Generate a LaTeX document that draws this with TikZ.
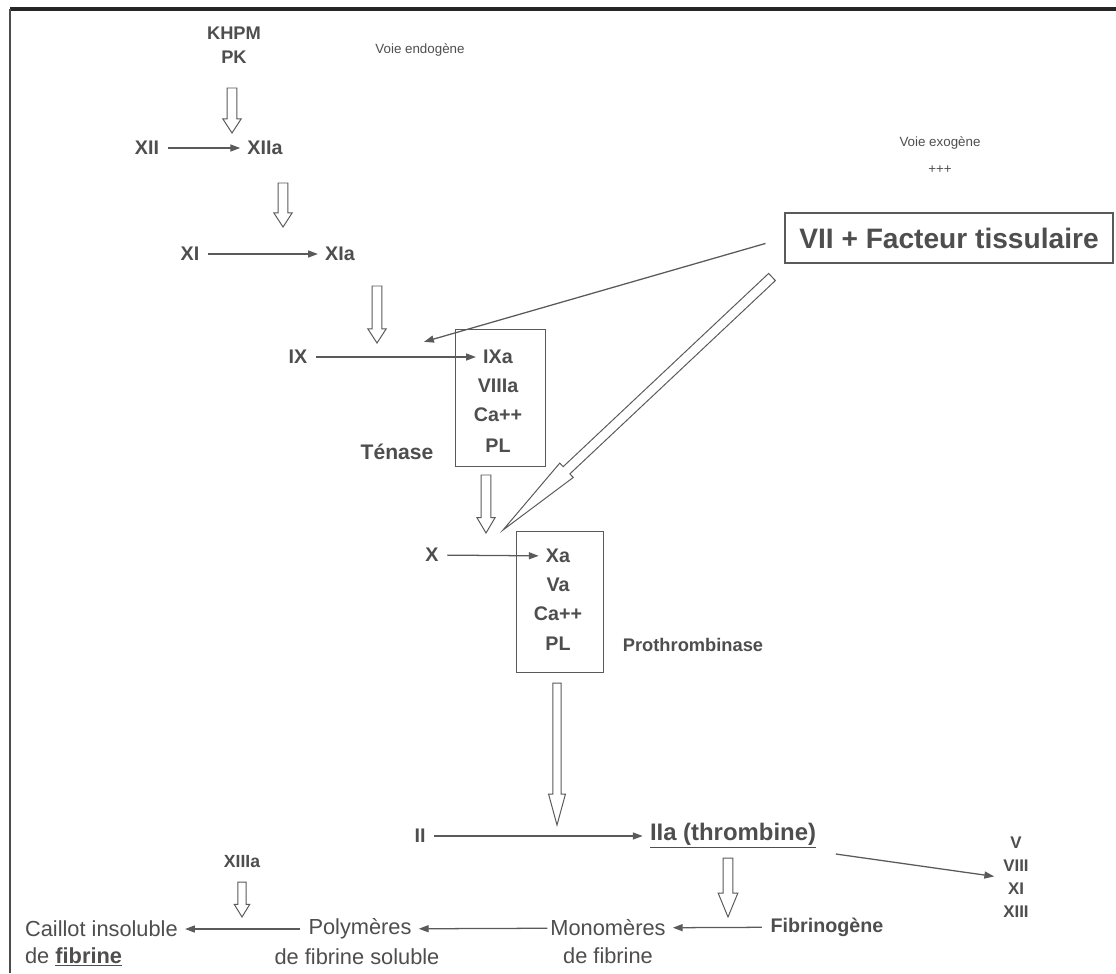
\documentclass[tikz,border=0pt]{standalone}
\usepackage{fontspec}
\setmainfont{Liberation Sans}
\usetikzlibrary{arrows.meta, calc}
\definecolor{ink}{HTML}{4E4E4E}
\definecolor{wire}{HTML}{5A5A5A}

% hollow arrow: start, tip, half shaft, half head, head length
\newcommand{\hollowarrow}[5]{%
  \coordinate (ha-h) at ($(#2)!#5!(#1)$);
  \draw[hollow] ($(#1)!#3!90:(#2)$) -- ($(ha-h)!#3!-90:(#1)$) -- ($(ha-h)!#4!-90:(#1)$)
    -- (#2) -- ($(ha-h)!#4!90:(#1)$) -- ($(ha-h)!#3!90:(#1)$) -- ($(#1)!#3!-90:(#2)$) -- cycle;}

\begin{document}
\begin{tikzpicture}[x=0.025cm, y=-0.025cm, >={Triangle[length=7pt,width=5pt]},
  fac/.style={font=\bfseries\fontsize{14}{16}\selectfont, text=ink, inner sep=2pt},
  tiny/.style={font=\bfseries\fontsize{12}{16.4}\selectfont, text=ink, align=center},
  note/.style={font=\fontsize{9.5}{12}\selectfont, text=ink, align=center},
  plain/.style={font=\fontsize{15.5}{18}\selectfont, text=ink, inner sep=2pt},
  cplx/.style={draw=wire, line width=0.7pt},
  rx/.style={->, draw=wire, line width=0.9pt, shorten <=4pt, shorten >=3pt},
  hollow/.style={draw=wire, fill=white, line width=0.7pt}]
  \fill[white] (0,0) rectangle (1116,973);
  \useasboundingbox (0,0) rectangle (1116,973);
  \draw[line width=2.4pt, black!85] (10,9) -- (1116,9);
  \draw[line width=1.6pt, black!70] (10,9) -- (10,973);

  % voie endogene
  \node[fac, font=\bfseries\fontsize{13}{15}\selectfont] (khpm) at (234,33) {KHPM};
  \node[fac, font=\bfseries\fontsize{13}{15}\selectfont] (pk) at (234,57) {PK};
  \node[note] (endo) at (420,50) {Voie endogène};
  \node[fac] (xii) at (147,148) {XII};
  \node[fac] (xiia) at (265,148) {XIIa};
  \node[fac] (xi) at (190,254) {XI};
  \node[fac] (xia) at (340,254) {XIa};
  \node[fac] (ix) at (298,357) {IX};

  \node[cplx, minimum width=2.25cm, minimum height=3.42cm] (tenase) at (500,398) {};
  \foreach \n/\y/\t in {ixa/357/IXa, viiia/386/VIIIa, ca1/415/Ca++, pl1/446/PL}
    \node[fac] (\n) at (498,\y) {\t};
  \node[fac, font=\bfseries\fontsize{15}{17}\selectfont] (tenlab) at (397,452) {Ténase};

  % voie exogene
  \node[note] (exo) at (940,143) {Voie exogène};
  \node[note] (plus) at (940,170) {+++};
  \node[draw=wire, line width=0.8pt, text=ink, font=\bfseries\fontsize{20}{24}\selectfont,
    minimum width=8.2cm, minimum height=1.25cm] (vii) at (949,238) {VII + Facteur tissulaire};

  \node[fac] (x) at (432,555) {X};
  \node[cplx, minimum width=2.17cm, minimum height=3.52cm] (prothro) at (560,602) {};
  \foreach \n/\y/\t in {xa/556/Xa, va/585/Va, ca2/614/Ca++, pl2/644/PL}
    \node[fac] (\n) at (558,\y) {\t};
  \node[fac, font=\bfseries\fontsize{13}{15}\selectfont] (prolab) at (693,645) {Prothrombinase};

  % thrombine et fibrine
  \node[fac] (ii) at (420,836) {II};
  \node[fac, font=\bfseries\fontsize{17}{20}\selectfont] (iia) at (733,836) {\underline{IIa (thrombine)}};
  \node[tiny] (factors) at (1016,877) {V\\VIII\\XI\\XIII};
  \node[tiny, font=\bfseries\fontsize{12.5}{15}\selectfont] (xiiia) at (242,862) {XIIIa};
  \node[fac] (fibg) at (827,927) {Fibrinogène};
  \node[plain] (mono) at (608,928) {Monomères};
  \node[plain] (mono2) at (608,956) {de fibrine};
  \node[plain] (poly) at (360,929) {Polymères};
  \node[plain] (poly2) at (357,957) {de fibrine soluble};
  \node[plain, anchor=west] (cail) at (22,929) {Caillot insoluble};
  \node[plain, anchor=west] (cail2) at (22,957) {de \textbf{\underline{fibrine}}};

  \draw[rx] (xii) -- (xiia);
  \draw[rx] (xi) -- (xia);
  \draw[rx] (ix) -- (ixa);
  \draw[rx] (x) -- (xa);
  \draw[rx] (ii) -- (iia);
  \draw[rx, shorten <=12pt] (iia.south east) -- (factors.west);
  \draw[rx] (fibg) -- (mono);
  \draw[rx, shorten <=0pt] (mono) -- (poly);
  \draw[rx] (poly) -- (cail);

  \coordinate (t-ix) at (420,343);
  \draw[rx, shorten <=14pt] (vii.west) -- (t-ix);

  % hollow arrows
  \coordinate (s1) at (232,88);   \coordinate (t1) at (232,133);
  \coordinate (s2) at (283,183);  \coordinate (t2) at (283,227);
  \coordinate (s3) at (377,286);  \coordinate (t3) at (377,343);
  \coordinate (s4) at (486,475);  \coordinate (t4) at (486,533);
  \coordinate (s5) at (557,683);  \coordinate (t5) at (557,825);
  \coordinate (s6) at (728,858);  \coordinate (t6) at (728,917);
  \coordinate (s7) at (242,882);  \coordinate (t7) at (242,917);
  \coordinate (s8) at (772,277);  \coordinate (t8) at (503,530);
  \hollowarrow{s1}{t1}{3.5pt}{6.5pt}{10pt}
  \hollowarrow{s2}{t2}{3.5pt}{6.5pt}{10pt}
  \hollowarrow{s3}{t3}{3.5pt}{6.5pt}{10pt}
  \hollowarrow{s4}{t4}{3.5pt}{6.5pt}{11pt}
  \hollowarrow{s5}{t5}{3pt}{6pt}{22pt}
  \hollowarrow{s6}{t6}{3.5pt}{7pt}{17pt}
  \hollowarrow{s7}{t7}{3pt}{5.5pt}{9pt}
  \hollowarrow{s8}{t8}{3.5pt}{7pt}{62pt}
\end{tikzpicture}
\end{document}
